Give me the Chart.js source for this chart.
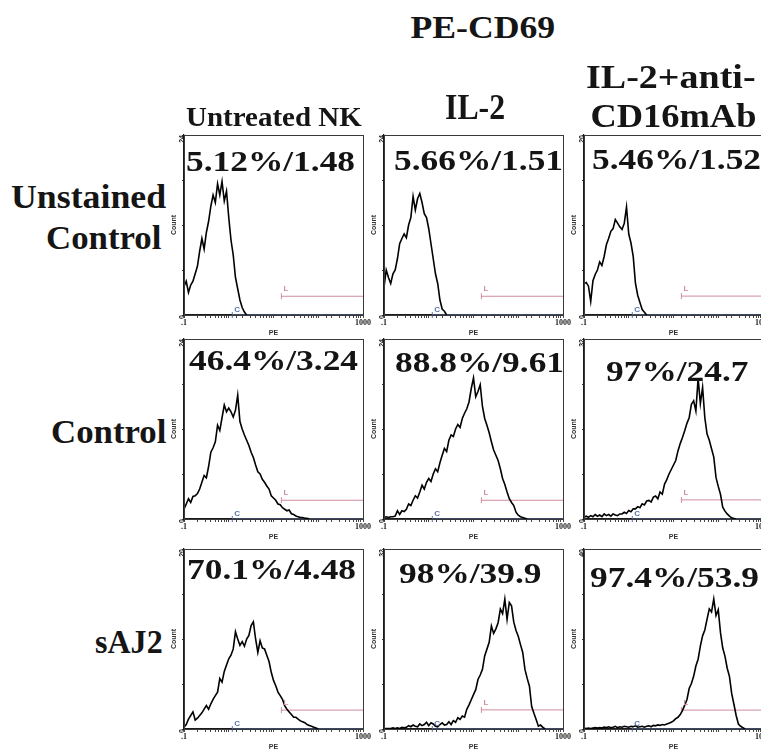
<!DOCTYPE html>
<html>
<head>
<meta charset="utf-8">
<script src="https://cdn.jsdelivr.net/npm/chart.js@4.4.1/dist/chart.umd.min.js"></script>
<style>
  html, body { margin: 0; padding: 0; background: #fff; }
  body { width: 761px; height: 751px; position: relative; overflow: hidden; }
  .panel { position: absolute; }
  .panel canvas { display: block; }
  .lbl {
    position: absolute;
    font-family: "Liberation Serif", "Times New Roman", serif;
    font-weight: bold;
    color: #151515;
    white-space: nowrap;
    line-height: 1;
    transform-origin: center center;
  }
</style>
</head>
<body>
<script>
const columns = ["Untreated NK", "IL-2", "IL-2+anti-CD16mAb"];
const rows = ["Unstained Control", "Control", "sAJ2"];

// Histogram channel k sits at 0.1 * 10^(k / binsPerDecade) on the PE axis
const binsPerDecade = 20;
const peMin = 0.1;
const peMax = 1000;

const yMaxima = [24, 24, 20, 24, 24, 32, 20, 32, 40];
const percentPositive = ["5.12%", "5.66%", "5.46%", "46.4%", "88.8%", "97%", "70.1%", "98%", "97.4%"];
const meanIntensity = ["1.48", "1.51", "1.52", "3.24", "9.61", "24.7", "4.48", "39.9", "53.9"];

// Gate markers: C from gateCStart, L from gateLStart, both up to peMax
const gateCStart = 1.2;
const gateLStart = 15;
const gateLHeight = [2.5, 2.5, 2.1, 2.5, 2.5, 3.4, 2.1, 3.4, 4.2];

// Counts per channel
const untreatedUnstained = [3.8, 4.5, 3.0, 4.0, 4.5, 5.5, 6.5, 8.5, 10.2, 8.8, 11, 12.5, 14.5, 16, 15, 17.5, 16, 17.8, 15.2, 16.5,
  13, 10, 8, 5, 3.5, 2, 1, 0.4, 0];
const il2Unstained = [3.7, 6.0, 5.0, 4.2, 5.5, 6.0, 7.5, 9.5, 10.2, 10.8, 10.3, 12, 13, 15.8, 14, 15.5, 16.2, 15, 13.5, 13,
  11.5, 9.5, 7.5, 5.5, 4.2, 2, 0.8, 0.5, 0];
const cd16Unstained = [3.5, 3.6, 3.2, 1.5, 3.8, 4.5, 5.0, 5.9, 5.5, 6.5, 7.8, 8.5, 9.3, 9.6, 10.6, 10.2, 9.8, 9.5, 10.2, 12,
  9, 8, 6.5, 3.5, 2.2, 1.4, 0.6, 0.3, 0];
const untreatedControl = [1.3, 2.0, 2.7, 2.2, 3.0, 3.1, 3.4, 4.0, 4.9, 5.8, 5.5, 7.0, 8.9, 9.5, 10.3, 12.5, 11.8, 13.5, 15.2, 14.3,
  14.8, 14.3, 13.6, 14.5, 16.5, 13, 12, 11.2, 10.5, 9.8, 8.9, 8.2, 7.2, 6.3, 6.0, 5.3, 4.9, 4.4, 4.0, 3.1,
  2.8, 2.5, 2.0, 1.9, 1.5, 1.3, 1.1, 1.2, 0.7, 0.6, 0.4, 0.3, 0.2, 0.2, 0.1, 0.1, 0];
const il2Control = [0.2, 0.3, 0.2, 0.3, 0.3, 0.4, 1.1, 0.6, 1.1, 1.0, 1.3, 2.0, 1.8, 2.5, 3.1, 2.8, 3.6, 4.5, 4.0, 4.9,
  5.4, 5.0, 6.0, 6.7, 6.3, 7.5, 8.5, 9.4, 9.0, 10.5, 11.2, 11.0, 12, 12.6, 12.2, 13.4, 14.1, 14.7, 15.6, 17.4,
  18.8, 16.3, 17.0, 17.9, 15.0, 13.4, 12.5, 11.5, 10.3, 9.2, 8.5, 7.8, 6.7, 5.4, 4.6, 3.6, 2.7, 2.2, 1.8, 0.9,
  0.5, 0.3, 0.2, 0.1, 0];
const cd16Control = [0.3, 0.5, 0.3, 0.6, 0.4, 0.8, 0.5, 0.7, 0.4, 0.9, 0.6, 0.8, 0.5, 0.9, 0.7, 0.6, 0.9, 0.9, 1.2, 1.0,
  1.5, 1.3, 1.8, 1.8, 2.2, 2.0, 2.7, 2.5, 3.2, 3.3, 3.0, 3.9, 4.1, 3.6, 4.8, 4.4, 6.2, 7.0, 8.0, 8.8,
  9.6, 10.4, 12.1, 13.4, 14.5, 15.7, 17.0, 18.0, 20.4, 21.0, 19.2, 25.0, 20.5, 23.4, 18.0, 15.1, 14.0, 12.5, 11.0, 7.4,
  5.8, 4.4, 2.1, 1.4, 0.9, 0.5, 0.2, 0.1, 0];
const untreatedSAJ2 = [0.2, 0.5, 1.1, 1.5, 1.9, 1.0, 1.2, 1.5, 1.8, 2.2, 2.6, 2.2, 2.8, 3.3, 3.7, 4.1, 5.6, 5.2, 6.4, 7.1,
  7.8, 8.2, 8.9, 10.8, 10.0, 9.3, 9.7, 9.2, 10.0, 10.4, 11.5, 11.9, 10.0, 8.5, 9.8, 9.0, 8.9, 8.2, 7.5, 6.3,
  5.4, 4.8, 4.1, 3.7, 3.3, 2.6, 2.2, 1.9, 1.6, 1.3, 1.3, 1.1, 0.9, 0.8, 0.7, 0.5, 0.4, 0.3, 0.2, 0.1, 0];
const il2SAJ2 = [0.1, 0.1, 0.1, 0.1, 0.2, 0.1, 0.2, 0.1, 0.3, 0.2, 0.3, 0.6, 0.4, 0.7, 0.5, 0.4, 0.9, 0.6, 0.8, 1.2,
  0.6, 1.1, 0.9, 0.5, 0.4, 0.8, 1.1, 0.7, 0.8, 1.3, 0.8, 1.5, 1.2, 2.0, 1.7, 2.3, 2.1, 3.5, 4.3, 5.2,
  6.1, 7.0, 8.8, 9.6, 10.6, 13.0, 14.2, 15.4, 18.3, 17.0, 17.8, 18.9, 21.3, 20.5, 23.1, 19.5, 22.5, 21.9, 19.0, 17.5,
  16.5, 15.0, 13.6, 10.6, 9.0, 7.6, 4.0, 2.8, 1.7, 0.5, 0.7, 0.3, 0];
const cd16SAJ2 = [0.2, 0.1, 0.2, 0.1, 0.2, 0.3, 0.2, 0.3, 0.2, 0.4, 0.3, 0.5, 0.3, 0.4, 0.6, 0.3, 0.5, 0.4, 0.6, 0.5,
  0.4, 0.6, 0.5, 0.7, 0.4, 0.5, 0.6, 0.4, 0.6, 0.7, 0.5, 0.8, 0.7, 0.9, 0.8, 1.0, 0.9, 1.1, 1.3, 1.5,
  1.8, 2.3, 2.6, 3.2, 4.1, 5.3, 6.5, 9.0, 10.1, 11.7, 14.0, 15.5, 18.4, 20.7, 22.0, 24.4, 26.7, 26.0, 28.9, 25.2,
  26.5, 21.4, 18.0, 16.2, 13.5, 11.7, 7.9, 5.5, 3.0, 1.1, 0.6, 0.3, 0];

const histograms = [
  untreatedUnstained, il2Unstained, cd16Unstained,
  untreatedControl, il2Control, cd16Control,
  untreatedSAJ2, il2SAJ2, cd16SAJ2
];

// Layout of the 3x3 grid (plot areas)
const colLeft = [184, 384, 584];
const rowTop = [135, 339, 549];
const PLOT_W = 179;
const PLOT_H = 180;
const Y_GUTTER = 14;
const X_GUTTER = 22;
const PAD_TOP = 8;
const PAD_RIGHT = 14;
// where each "% / MFI" label sits, relative to the plot's top-left corner
const labelOffsets = [[2, 36], [10, 35], [8, 34], [5, 31], [11, 33], [22, 42], [3, 30], [15, 34], [6, 38]];

const GATE_C_COLOR = "#5872ad";
const GATE_L_COLOR = "#cf8c9c";

const panelDecor = {
  id: "panelDecor",
  afterDatasetsDraw(chart, args, opts) {
    const { ctx, chartArea: a, scales: { x, y } } = chart;
    ctx.save();
    ctx.strokeStyle = "#3a3a3a";
    ctx.lineWidth = 1;
    ctx.strokeRect(a.left + 0.5, a.top + 0.5, a.width, a.height);

    ctx.font = 'bold 8px "Liberation Sans"';
    ctx.textBaseline = "alphabetic";
    ctx.fillStyle = GATE_C_COLOR;
    ctx.fillText("C", x.getPixelForValue(gateCStart) + 2, y.getPixelForValue(0) - 3);
    ctx.fillStyle = GATE_L_COLOR;
    ctx.fillText("L", x.getPixelForValue(gateLStart) + 2, y.getPixelForValue(opts.gateY) - 5);

    ctx.translate(a.left + opts.dx, a.top + opts.dy);
    ctx.scale(1.22, 1);
    ctx.font = 'bold 29px "Liberation Serif"';
    ctx.fillStyle = "#141414";
    ctx.fillText(opts.text, 0, 0);
    ctx.restore();
  }
};

function nearly(a, b) {
  return Math.abs(a - b) < 1e-9 * Math.max(1, b);
}

function makePanel(idx) {
  const col = idx % 3;
  const row = Math.floor(idx / 3);
  const yMax = yMaxima[idx];
  const counts = histograms[idx];

  const wrap = document.createElement("div");
  wrap.className = "panel";
  wrap.style.left = (colLeft[col] - Y_GUTTER) + "px";
  wrap.style.top = (rowTop[row] - PAD_TOP) + "px";
  const canvas = document.createElement("canvas");
  canvas.width = PLOT_W + Y_GUTTER + PAD_RIGHT;
  canvas.height = PLOT_H + PAD_TOP + X_GUTTER;
  wrap.appendChild(canvas);
  document.body.appendChild(wrap);

  const smallFont = { family: '"Liberation Sans", sans-serif', size: 7, weight: "bold" };

  new Chart(canvas, {
    type: "line",
    data: {
      datasets: [
        {
          data: counts.map((c, k) => ({ x: peMin * Math.pow(10, k / binsPerDecade), y: c })),
          borderColor: "#000",
          borderWidth: 1.6,
          pointRadius: 0,
          tension: 0,
          order: 0
        },
        {
          data: [{ x: gateCStart, y: 0 }, { x: peMax, y: 0 }],
          borderColor: GATE_C_COLOR,
          borderWidth: 1.2,
          pointStyle: "line",
          rotation: 90,
          pointRadius: [3, 0],
          pointBorderColor: GATE_C_COLOR,
          pointBorderWidth: 1,
          clip: false,
          order: 1
        },
        {
          data: [{ x: gateLStart, y: gateLHeight[idx] }, { x: peMax, y: gateLHeight[idx] }],
          borderColor: GATE_L_COLOR,
          borderWidth: 1,
          pointStyle: "line",
          rotation: 90,
          pointRadius: [3, 0],
          pointBorderColor: GATE_L_COLOR,
          pointBorderWidth: 1,
          clip: false,
          order: 2
        }
      ]
    },
    options: {
      responsive: false,
      animation: false,
      events: [],
      devicePixelRatio: 1,
      layout: { padding: { top: PAD_TOP, right: PAD_RIGHT, left: 0, bottom: 0 } },
      plugins: {
        legend: { display: false },
        tooltip: { enabled: false },
        panelDecor: {
          text: percentPositive[idx] + "/" + meanIntensity[idx],
          dx: labelOffsets[idx][0],
          dy: labelOffsets[idx][1],
          gateY: gateLHeight[idx]
        }
      },
      scales: {
        x: {
          type: "logarithmic",
          min: peMin,
          max: peMax,
          afterFit: (s) => { s.height = X_GUTTER; },
          border: { color: "#1a1a1a", width: 1.5 },
          grid: { drawOnChartArea: false, drawTicks: true, tickLength: 3, color: "#444" },
          ticks: {
            autoSkip: false,
            maxRotation: 0,
            minRotation: 0,
            padding: 0,
            color: "#222",
            font: { family: '"Liberation Serif", serif', size: 8, weight: "bold" },
            callback: (v) => (nearly(v, peMin) ? ".1" : nearly(v, peMax) ? "1000" : "")
          },
          title: {
            display: true,
            text: "PE",
            color: "#333",
            font: smallFont,
            padding: { top: 0, bottom: 0 }
          }
        },
        y: {
          min: 0,
          max: yMax,
          afterFit: (s) => { s.width = Y_GUTTER; },
          border: { color: "#1a1a1a", width: 1.3 },
          grid: { drawOnChartArea: false, drawTicks: true, tickLength: 2, color: "#444" },
          ticks: {
            stepSize: yMax / 4,
            minRotation: 90,
            maxRotation: 90,
            padding: 0,
            color: "#222",
            font: smallFont,
            callback: (v) => (v === 0 || v === yMax ? String(v) : "")
          },
          title: {
            display: true,
            text: "Count",
            color: "#333",
            font: smallFont,
            padding: { top: 0, bottom: 0 }
          }
        }
      }
    },
    plugins: [panelDecor]
  });
}

for (let i = 0; i < histograms.length; i++) makePanel(i);

// Column / row headings, each squeezed or stretched to its target width
function placeText(text, cx, cy, size, width) {
  const d = document.createElement("div");
  d.className = "lbl";
  d.textContent = text;
  d.style.fontSize = size + "px";
  document.body.appendChild(d);
  const w = d.offsetWidth;
  const h = d.offsetHeight;
  d.style.left = (cx - w / 2) + "px";
  d.style.top = (cy - h / 2) + "px";
  d.style.transform = "scaleX(" + (width / w).toFixed(3) + ")";
}

placeText("PE-CD69", 483, 27, 31, 145);
placeText(columns[0], 274, 117, 27, 176);
placeText(columns[1], 475, 107, 35, 60);
placeText("IL-2+anti-", 671, 77, 34, 170);
placeText("CD16mAb", 673, 116, 34, 166);
placeText("Unstained", 88, 197, 33, 155);
placeText("Control", 103, 238, 33, 115);
placeText(rows[1], 108, 432, 33, 115);
placeText(rows[2], 129, 642, 33, 68);
</script>
</body>
</html>
